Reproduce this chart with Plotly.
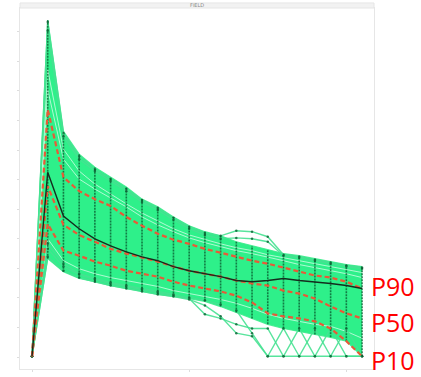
import plotly.graph_objects as go

# ---- data (index of time step, values in arbitrary rate units) ----
steps = list(range(22))

p90 = [3, 837, 608, 561, 534, 511, 474, 444, 417, 397, 383, 366, 353, 339, 326, 316, 303, 289, 276, 269, 255, 232]
p50 = [3, 578, 447, 413, 390, 366, 350, 336, 323, 306, 292, 282, 272, 259, 249, 242, 225, 215, 198, 171, 148, 131]
p10 = [3, 450, 360, 343, 323, 309, 292, 282, 272, 255, 242, 232, 222, 208, 185, 148, 138, 131, 121, 97, 54, 3]
base_case = [3, 625, 477, 434, 400, 376, 356, 339, 326, 306, 292, 282, 272, 259, 255, 259, 266, 259, 255, 249, 242, 232]

ens_max = [3, 1139, 763, 686, 642, 608, 575, 534, 508, 474, 444, 424, 410, 390, 376, 363, 350, 343, 333, 323, 313, 306]
ens_min = [3, 333, 289, 266, 255, 242, 232, 222, 212, 205, 198, 188, 171, 151, 131, 111, 97, 87, 77, 67, 54, 3]

member_bump1 = [3, 1133, 756, 679, 635, 602, 568, 531, 504, 471, 440, 420, 410, 427, 424, 407, 346, 339, 329, 319, 309, 303]
member_bump2 = [3, 1103, 746, 669, 629, 595, 561, 524, 497, 464, 434, 413, 400, 403, 400, 390, 343, 336, 326, 316, 306, 299]
member_low_a = [3, 366, 306, 279, 262, 249, 239, 229, 218, 208, 202, 192, 178, 158, 81, 3, 97, 3, 97, 3, 97, 3]
member_low_b = [3, 383, 316, 282, 266, 252, 242, 232, 222, 212, 198, 145, 131, 111, 97, 97, 3, 3, 3, 97, 3, 3]
member_low_c = [3, 339, 292, 269, 255, 242, 232, 222, 212, 205, 195, 175, 138, 81, 71, 3, 3, 97, 3, 3, 3, 3]
member_light1 = [3, 971, 703, 629, 585, 551, 518, 487, 460, 434, 413, 397, 383, 370, 360, 346, 336, 326, 316, 306, 296, 286]
member_light2 = [3, 904, 669, 602, 568, 538, 508, 474, 447, 424, 403, 387, 373, 360, 350, 339, 326, 313, 303, 292, 282, 269]
member_light3 = [3, 400, 326, 299, 282, 269, 259, 249, 239, 225, 215, 205, 195, 182, 165, 145, 131, 121, 111, 104, 87, 64]

band_labels = ["P90", "P50", "P10"]
title_text = "FIELD"

GREEN = "rgb(46,240,138)"
DARK = "rgba(10,95,50,0.8)"

fig = go.Figure()

# ensemble envelope (filled)
fig.add_trace(go.Scatter(x=steps, y=ens_max, mode="lines",
                         line=dict(color="rgba(60,235,140,0.9)", width=1.2), hoverinfo="skip"))
fig.add_trace(go.Scatter(x=steps, y=ens_min, mode="lines", fill="tonexty", fillcolor=GREEN,
                         line=dict(color="rgba(60,235,140,0.9)", width=1.2), hoverinfo="skip"))

# lighter streaks inside the ensemble
for m in (member_light1, member_light2, member_light3):
    fig.add_trace(go.Scatter(x=steps, y=m, mode="lines",
                             line=dict(color="rgba(215,252,232,0.85)", width=0.9), hoverinfo="skip"))

# outlier members
for m in (member_bump1, member_bump2, member_low_a, member_low_b, member_low_c):
    fig.add_trace(go.Scatter(x=steps, y=m, mode="lines+markers",
                             line=dict(color="rgba(70,225,145,0.9)", width=1.4),
                             marker=dict(size=2.5, color=DARK), hoverinfo="skip"))

# stacked markers of all members at each time step (vertical dark strokes)
vx, vy = [], []
for i in steps[1:]:
    vx += [i, i, None]
    vy += [ens_min[i], ens_max[i], None]
fig.add_trace(go.Scatter(x=vx, y=vy, mode="lines",
                         line=dict(color=DARK, width=1.6, dash="2px,1px"), hoverinfo="skip"))

# percentiles
for s in (p90, p50, p10):
    fig.add_trace(go.Scatter(x=steps, y=s, mode="lines",
                             line=dict(color="rgb(232,90,55)", width=2.2, dash="5px,3px"), hoverinfo="skip"))

fig.add_trace(go.Scatter(x=steps, y=base_case, mode="lines",
                         line=dict(color="rgb(20,45,30)", width=1.4), hoverinfo="skip"))

# labels at right
for lab, yp in zip(band_labels, (0.231, 0.129, 0.025)):
    fig.add_annotation(text=lab, xref="paper", yref="paper", x=0.986, y=yp,
                       xanchor="left", yanchor="middle", showarrow=False,
                       font=dict(family="Open Sans", size=25, color="#ff0000"))

# title strip
fig.add_shape(type="rect", xref="paper", yref="paper", x0=0, x1=1, y0=1.0, y1=1.014,
              fillcolor="#f2f2f2", line=dict(color="#e6e6e6", width=1))
fig.add_annotation(text=title_text, xref="paper", yref="paper", x=0.5, y=1.007,
                   xanchor="center", yanchor="middle", showarrow=False,
                   font=dict(family="DejaVu Sans", size=5, color="#8a8a8a"))

fig.update_layout(
    width=421, height=377,
    margin=dict(l=20, r=47, t=8, b=6),
    paper_bgcolor="white", plot_bgcolor="white",
    showlegend=False,
)
fig.update_xaxes(range=[-0.764, 21.76], showgrid=False, zeroline=False,
                 showline=True, mirror=True, linecolor="#e6e6e6", linewidth=1,
                 tickvals=[0, 10, 20], ticks="outside", ticklen=2, tickcolor="#dddddd",
                 showticklabels=False)
fig.update_yaxes(range=[-40, 1180], showgrid=False, zeroline=False,
                 showline=True, mirror=True, linecolor="#e6e6e6", linewidth=1,
                 dtick=100, tick0=0, ticks="outside", ticklen=2, tickcolor="#dddddd",
                 showticklabels=False)

fig.write_html("out.html", config={"displayModeBar": False},
               post_script="document.body.style.margin='0';document.body.style.overflow='hidden';")
